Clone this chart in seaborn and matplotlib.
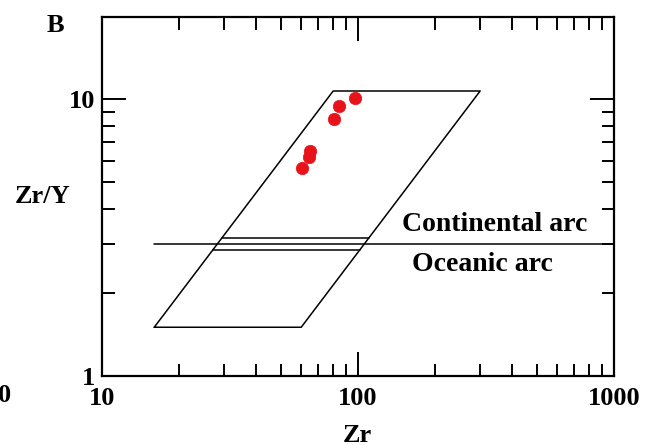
import matplotlib
matplotlib.use("Agg")
import matplotlib.pyplot as plt
import seaborn as sns
import numpy as np
import pandas as pd
from matplotlib.ticker import LogLocator, NullFormatter, FixedLocator, FixedFormatter

# ---- data ----
zr = [97, 84.3, 80.7, 64.9, 64.1, 60.7]
zr_y = [10.1, 9.44, 8.51, 6.49, 6.17, 5.66]

# parallelogram field (Zr, Zr/Y)
field_x = [16, 60, 300, 80, 16]
field_y = [1.5, 1.5, 10.7, 10.7, 1.5]

# continental / oceanic arc divider
div_x = [16, 900]
div_y = [3.0, 3.0]
upper_y = 3.16
lower_y = 2.85

x_ticks = [10, 100, 1000]
x_ticklabels = ["10", "100", "1000"]
y_ticks = [1, 10]
y_ticklabels = ["1", "10"]

sns.set_theme(style="white")
plt.rcParams["font.family"] = ["Liberation Serif", "DejaVu Serif"]
plt.rcParams["font.weight"] = "bold"
plt.rcParams["text.color"] = "black"
plt.rcParams["xtick.color"] = "black"
plt.rcParams["ytick.color"] = "black"
plt.rcParams["xtick.labelcolor"] = "black"
plt.rcParams["ytick.labelcolor"] = "black"

fig = plt.figure(figsize=(6.56, 4.45), dpi=100)
ax = fig.add_axes([102/656, 1-376/445, (614-102)/656, (376-17)/445])

ax.set_xscale("log")
ax.set_yscale("log")
ax.set_xlim(10, 1000)
ax.set_ylim(1, 19.8)

lw = 1.1
ax.plot(field_x, field_y, color="black", lw=lw)
ax.plot(div_x, div_y, color="black", lw=lw)

# inner lines clipped by field edges
slope = (np.log10(300) - np.log10(60)) / (np.log10(10.7) - np.log10(1.5))
for yy in [upper_y, lower_y]:
    dl = (np.log10(yy) - np.log10(1.5)) * slope
    xl = 10 ** (np.log10(16) + dl)
    xr = 10 ** (np.log10(60) + dl)
    ax.plot([xl, xr], [yy, yy], color="black", lw=lw)

df = pd.DataFrame({"Zr": zr, "ZrY": zr_y})
sns.scatterplot(data=df, x="Zr", y="ZrY", ax=ax, color="#e8121a", s=80,
                edgecolor="#e8121a", linewidth=0.5, zorder=5)

ax.text(148, 3.54, "Continental arc", fontsize=20, fontweight="bold", va="center", ha="left", color="black")
ax.text(162, 2.52, "Oceanic arc", fontsize=20, fontweight="bold", va="center", ha="left", color="black")

for s in ax.spines.values():
    s.set_linewidth(1.6)
    s.set_color("black")

ax.xaxis.set_major_locator(FixedLocator(x_ticks))
ax.xaxis.set_major_formatter(FixedFormatter(x_ticklabels))
ax.yaxis.set_major_locator(FixedLocator(y_ticks))
ax.yaxis.set_major_formatter(FixedFormatter(y_ticklabels))
ax.xaxis.set_minor_locator(LogLocator(base=10, subs=np.arange(2, 10)))
ax.yaxis.set_minor_locator(LogLocator(base=10, subs=np.arange(2, 10)))
ax.xaxis.set_minor_formatter(NullFormatter())
ax.yaxis.set_minor_formatter(NullFormatter())

ax.tick_params(which="both", direction="in", top=True, right=True, bottom=True, left=True,
               color="black", width=1.4, labelcolor="black")
ax.tick_params(which="major", length=17, labelsize=19)
ax.tick_params(which="minor", length=9)
ax.tick_params(axis="x", which="major", pad=8)
ax.tick_params(axis="y", which="major", pad=5)
for lab in ax.get_xticklabels() + ax.get_yticklabels():
    lab.set_fontweight("bold")

ax.set_xlabel("")
ax.set_ylabel("")
fig.text(357/656, 1-436/445, "Zr", fontsize=19, fontweight="bold", ha="center", va="center")
fig.text(43/656, 1-197/445, "Zr/Y", fontsize=19, fontweight="bold", ha="center", va="center")
fig.text(55/656, 1-25/445, "B", fontsize=19, fontweight="bold", ha="center", va="center")
fig.text(5/656, 1-395/445, "0", fontsize=19, fontweight="bold", ha="center", va="center")

fig.savefig("out.png", dpi=100)
